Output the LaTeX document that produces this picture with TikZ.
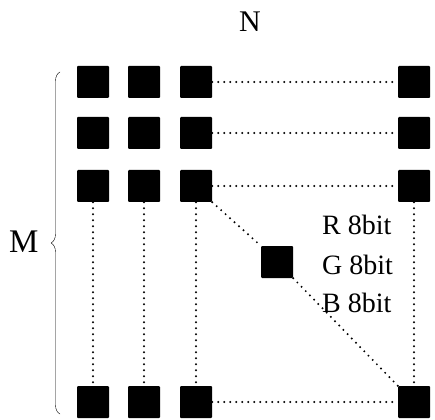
\documentclass[tikz,border=0pt]{standalone}
\usepackage{fontspec}
\setmainfont{Liberation Serif}
\usetikzlibrary{decorations.pathreplacing}
\begin{document}
\begin{tikzpicture}[x=1pt, y=-1pt, line join=round, line cap=round,
    pixel/.style={fill=black, minimum size=32pt, inner sep=0pt, rounded corners=1pt},
    link/.style={line width=2.2pt, dash pattern=on 0pt off 6pt},
    lbl/.style={font=\fontsize{28}{32}\selectfont, inner sep=0pt}]
  \useasboundingbox (0,0) rectangle (435,419);
  % pixel grid: first three rows and last row, first three cols and last col
  \foreach \r/\y in {1/82,2/133,3/186,m/402} {
    \foreach \c/\x in {1/93,2/144,3/196,n/414} {
      \node[pixel] (p-\r-\c) at (\x,\y) {};
    }
  }
  \node[pixel] (mid) at (277,262) {};

  \foreach \r in {1,2,3,m}
    \draw[link] (p-\r-3.east) -- (p-\r-n.west);
  \foreach \c in {1,2,3,n}
    \draw[link] (p-3-\c.south) -- (p-m-\c.north);
  \draw[link] (p-3-3.south east) -- (mid.north west);
  \draw[link] (mid.south east) -- (p-m-n.north west);

  \node[lbl, anchor=west] (rbit) at (322,225) {R 8bit};
  \node[lbl, anchor=west] (gbit) at (322,265) {G 8bit};
  \node[lbl, anchor=west] (bbit) at (322,303) {B 8bit};

  % size labels
  \node[font=\fontsize{30}{34}\selectfont] (ncols) at (250,22) {N};
  \coordinate (btop) at (60,72);
  \coordinate (bbot) at (60,414);
  \draw[thin, decorate, decoration={brace, amplitude=9pt}] (bbot) -- (btop);
  \node[font=\fontsize{33}{38}\selectfont, anchor=east] (mrows) at (42,242) {M};
\end{tikzpicture}
\end{document}
